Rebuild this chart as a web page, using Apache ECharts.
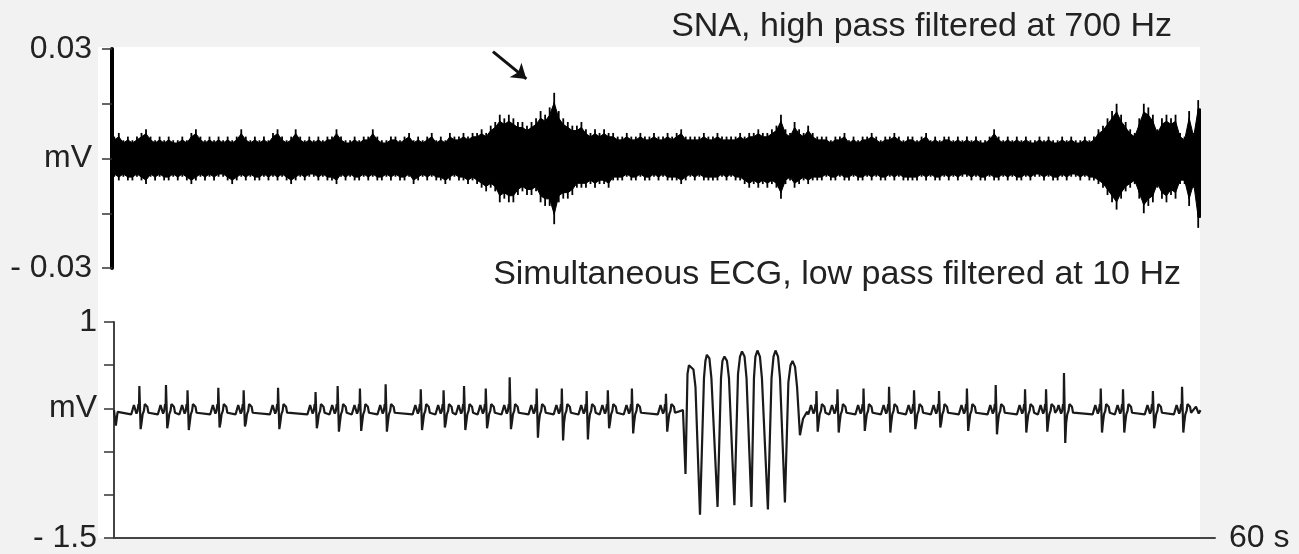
<!DOCTYPE html>
<html>
<head>
<meta charset="utf-8">
<script src="https://cdn.jsdelivr.net/npm/echarts@6/dist/echarts.min.js"></script>
<style>
html, body { margin: 0; padding: 0; background: #f2f2f2; }
#container { width: 1299px; height: 554px; }
</style>
</head>
<body>
<div id="container"></div>
<script>
var dom = document.getElementById("container");
var myChart = echarts.init(dom);
var option = null;

// time axis (s)
var timeMax = 60.8;
var snaStep = 0.25;

// SNA envelope in microvolts, one value per 0.25 s bin
var snaUpperUv = [
    6,7,5,6, 5,6,7,8, 6,5,6,5, 6,5,5,6, 5,7,8,6,
    5,6,5,6, 5,6,5,6, 8,6,5,6, 5,6,5,7, 8,6,5,6,
    8,6,5,6, 5,6,5,6, 6,8,6,5, 5,6,5,6, 6,8,6,5,
    5,6,6,5, 6,7,5,6, 5,6,7,5, 6,5,7,6, 6,7,6,7,
    7,8,7,9, 10,12,11,12, 11,10,10,9, 10,11,13,12, 14,18,13,11,
    10,9,9,10, 8,7,8,7, 8,7,7,6, 6,7,6,6, 7,6,6,7,
    6,6,7,6, 7,8,6,6, 6,6,7,6, 6,7,6,6, 6,6,7,6,
    7,7,8,7, 7,8,9,12, 8,7,10,8, 7,9,7,6, 6,6,5,6,
    6,7,5,6, 5,6,6,7, 6,5,6,6, 7,6,5,6, 6,5,6,7,
    5,6,5,6, 6,5,6,5, 6,5,6,5, 5,6,8,6, 5,6,5,6,
    5,6,5,5, 6,5,6,5, 5,6,5,6, 5,5,6,5, 6,8,9,11,
    13,15,12,10, 8,7,11,15, 14,12,8,11, 12,11,12,7, 6,13,7,16
];
var snaLowerUv = [
    -5,-6,-5,-6, -6,-5,-6,-7, -5,-6,-5,-6, -6,-5,-6,-5, -6,-7,-6,-5,
    -6,-5,-6,-5, -5,-6,-7,-6, -5,-6,-5,-6, -6,-5,-6,-5, -6,-5,-6,-7,
    -6,-5,-6,-5, -5,-6,-5,-6, -6,-7,-5,-6, -5,-6,-6,-5, -6,-5,-6,-6,
    -5,-6,-5,-6, -6,-5,-7,-6, -5,-6,-5,-6, -6,-7,-6,-5, -6,-6,-7,-6,
    -7,-8,-9,-8, -9,-12,-11,-12, -12,-10,-9,-10, -10,-9,-12,-13, -13,-18,-12,-11,
    -11,-10,-8,-8, -8,-7,-8,-7, -7,-8,-6,-6, -6,-5,-6,-6, -5,-6,-6,-5,
    -6,-5,-6,-6, -6,-7,-6,-5, -6,-5,-6,-6, -6,-6,-5,-6, -5,-6,-6,-7,
    -8,-7,-8,-7, -8,-7,-8,-11, -7,-6,-8,-7, -6,-7,-6,-6, -6,-5,-6,-6,
    -5,-6,-6,-5, -6,-6,-5,-6, -5,-6,-6,-5, -6,-5,-6,-6, -6,-6,-5,-6,
    -5,-6,-6,-5, -6,-5,-6,-5, -5,-6,-5,-6, -6,-5,-6,-6, -5,-6,-5,-6,
    -6,-5,-6,-5, -5,-6,-5,-6, -6,-5,-6,-5, -5,-6,-5,-6, -6,-7,-8,-10,
    -12,-14,-11,-9, -8,-7,-11,-15, -13,-12,-8,-11, -12,-10,-11,-7, -7,-13,-8,-19
];
var snaCoreShare = 0.85; // dense core of the trace vs. its outer spikes
var snaTicks = {'30': '0.03', '0': 'mV', '-30': '- 0.03'};

// ECG beats: R-peak time (s), R height and S depth (mV)
var rTimes = [1.40, 2.87, 4.06, 5.76, 7.16, 9.06, 11.13, 12.35, 13.58, 15.00,
              16.94, 18.20, 19.33, 20.53, 21.85, 23.34, 24.73, 26.10, 27.27, 28.60,
              30.48, 38.79, 39.95, 41.39, 42.80, 44.18, 45.56, 47.10, 48.69, 50.31,
              51.47, 52.46, 54.49, 55.72, 57.37, 58.98];
var rPeaks = [0.26, 0.27, 0.21, 0.24, 0.21, 0.24, 0.19, 0.26, 0.23, 0.28,
              0.22, 0.21, 0.26, 0.23, 0.36, 0.23, 0.23, 0.20, 0.21, 0.23,
              0.17, 0.20, 0.22, 0.23, 0.25, 0.21, 0.20, 0.23, 0.27, 0.22,
              0.22, 0.41, 0.23, 0.22, 0.20, 0.25];
var sTroughs = [-0.24, -0.23, -0.25, -0.22, -0.21, -0.24, -0.23, -0.27, -0.26, -0.27,
                -0.25, -0.22, -0.25, -0.23, -0.24, -0.34, -0.37, -0.36, -0.23, -0.29,
                -0.27, -0.27, -0.28, -0.26, -0.28, -0.24, -0.22, -0.26, -0.30, -0.28,
                -0.27, -0.40, -0.28, -0.28, -0.23, -0.28];
// shape of one beat around its R peak (offset s, mV); R and S slots filled per beat
var beatOffsets = [-0.45, -0.38, -0.30, -0.22, -0.16, -0.10, -0.05, -0.02, 0, 0.07, 0.12, 0.18, 0.25, 0.30, 0.38, 0.44, 0.50];
var beatShape   = [-0.07, -0.02, 0.04, 0.02, -0.06, -0.03, 0.05, 0.00, 0, 0, -0.17, -0.07, -0.03, 0.05, 0.07, 0.02, -0.05];
var rSlot = 8, sSlot = 9;
// large oscillation episode
var vtTimes = [31.42, 31.56, 31.67, 31.75, 31.86, 32.00, 32.11,
               32.36, 32.58, 32.66, 32.74, 32.88, 32.99,
               33.33, 33.52, 33.60, 33.71, 33.85, 33.96,
               34.26, 34.46, 34.57, 34.68, 34.82, 34.93,
               35.20, 35.34, 35.42, 35.53, 35.67, 35.78,
               36.11, 36.31, 36.42, 36.53, 36.67, 36.78,
               37.05, 37.24, 37.36, 37.47, 37.61, 37.72,
               37.88, 38.05, 38.27];
var vtValues = [-0.02, -0.76, 0.40, 0.50, 0.52, 0.45, 0.25,
                -1.23, 0.35, 0.55, 0.62, 0.58, 0.35,
                -1.14, 0.35, 0.55, 0.60, 0.55, 0.35,
                -1.12, 0.40, 0.60, 0.66, 0.60, 0.35,
                -1.14, 0.35, 0.60, 0.67, 0.60, 0.35,
                -1.17, 0.35, 0.60, 0.67, 0.60, 0.35,
                -1.09, 0.30, 0.50, 0.55, 0.48, 0.25,
                -0.31, -0.12, -0.04];
var ecgStart = [[0, -0.02], [0.1, -0.2], [0.2, -0.04]];
var ecgEnd = [[59.75, 0.02], [59.9, -0.06], [60, -0.02]];
var ecgTicks = {'1': '1', '0': 'mV', '-1.5': '- 1.5'};

// SNA bins: [time, lower, upper]
var snaBins = [];
for (var i = 0; i < snaUpperUv.length; i++) {
    snaBins.push([i * snaStep + snaStep / 2, snaLowerUv[i], snaUpperUv[i]]);
}

var ecgPoints = ecgStart.slice();
for (var b = 0; b < rTimes.length; b++) {
    for (var j = 0; j < beatOffsets.length; j++) {
        var v = beatShape[j];
        if (j === rSlot) v = rPeaks[b];
        if (j === sSlot) v = sTroughs[b];
        ecgPoints.push([rTimes[b] + beatOffsets[j], v]);
    }
}
for (var k = 0; k < vtTimes.length; k++) {
    ecgPoints.push([vtTimes[k], vtValues[k]]);
}
ecgPoints = ecgPoints.concat(ecgEnd);
ecgPoints.sort(function (a, b) { return a[0] - b[0]; });

// dense core between this bin and the next, plus a spike to the bin's extremes
function renderSnaBin(params, api) {
    var i = params.dataIndex;
    var cur = snaBins[i];
    var nxt = snaBins[i + 1] || [cur[0] + snaStep / 2, cur[1], cur[2]];
    var c = snaCoreShare;
    var core = [
        api.coord([cur[0], cur[2] * c]),
        api.coord([nxt[0], nxt[2] * c]),
        api.coord([nxt[0], nxt[1] * c]),
        api.coord([cur[0], cur[1] * c])
    ];
    var top = api.coord([cur[0], cur[2]]);
    var bottom = api.coord([cur[0], cur[1]]);
    return {
        type: 'group',
        children: [{
            type: 'polygon',
            shape: {points: core},
            style: {fill: '#000', stroke: '#000', lineWidth: 1}
        }, {
            type: 'line',
            shape: {x1: top[0], y1: top[1], x2: bottom[0], y2: bottom[1]},
            style: {stroke: '#000', lineWidth: 1.8}
        }]
    };
}

var font = "'Liberation Sans', Arial, sans-serif";
var textColor = '#222';

option = {
    backgroundColor: '#f2f2f2',
    animation: false,
    graphic: [{
        type: 'rect',
        z: -10,
        silent: true,
        shape: {x: 98, y: 47, width: 1102, height: 491},
        style: {fill: '#fff'}
    }],
    title: [{
        text: 'SNA, high pass filtered at 700 Hz',
        right: 122,
        top: 5,
        textStyle: {fontSize: 34, fontWeight: 'normal', color: textColor, fontFamily: font}
    }, {
        text: 'Simultaneous ECG, low pass filtered at 10 Hz',
        right: 113,
        top: 253,
        textStyle: {fontSize: 34, fontWeight: 'normal', color: textColor, fontFamily: font}
    }],
    grid: [
        {left: 112, right: 84, top: 49, height: 219},
        {left: 114, right: 84, top: 322, height: 217}
    ],
    xAxis: [{
        gridIndex: 0,
        type: 'value',
        min: 0,
        max: timeMax,
        show: false
    }, {
        gridIndex: 1,
        type: 'value',
        min: 0,
        max: timeMax,
        axisLine: {show: true, onZero: false, lineStyle: {color: '#444', width: 2}},
        axisTick: {show: false},
        axisLabel: {show: false},
        splitLine: {show: false},
        name: '60 s',
        nameLocation: 'end',
        nameGap: 14,
        nameTextStyle: {fontSize: 32, color: textColor, fontFamily: font}
    }],
    yAxis: [{
        gridIndex: 0,
        type: 'value',
        min: -30,
        max: 30,
        interval: 15,
        axisLine: {show: true, onZero: false, lineStyle: {color: '#000', width: 4}},
        axisTick: {show: true, length: 10, lineStyle: {color: '#333', width: 1.5}},
        axisLabel: {
            margin: 20,
            fontSize: 32,
            color: textColor,
            fontFamily: font,
            formatter: function (val) { return snaTicks[String(val)] || ''; }
        },
        splitLine: {show: false}
    }, {
        gridIndex: 1,
        type: 'value',
        min: -1.5,
        max: 1,
        interval: 0.5,
        axisLine: {show: true, onZero: false, lineStyle: {color: '#444', width: 2}},
        axisTick: {show: true, length: 10, lineStyle: {color: '#333', width: 1.5}},
        axisLabel: {
            margin: 17,
            fontSize: 32,
            color: textColor,
            fontFamily: font,
            formatter: function (val) { return ecgTicks[String(val)] || ''; }
        },
        splitLine: {show: false}
    }],
    series: [{
        name: 'SNA',
        type: 'custom',
        xAxisIndex: 0,
        yAxisIndex: 0,
        data: snaBins,
        encode: {x: 0, y: [1, 2]},
        renderItem: renderSnaBin,
        markLine: {
            silent: true,
            symbol: ['none', 'arrow'],
            symbolSize: 14,
            label: {show: false},
            lineStyle: {color: '#111', width: 3, type: 'solid'},
            data: [[{coord: [21.0, 29.3]}, {coord: [22.84, 21.8]}]]
        }
    }, {
        name: 'ECG',
        type: 'line',
        xAxisIndex: 1,
        yAxisIndex: 1,
        data: ecgPoints,
        showSymbol: false,
        symbol: 'none',
        lineStyle: {color: '#1a1a1a', width: 2.2}
    }]
};
if (option && typeof option === "object") {
    myChart.setOption(option, true);
}
</script>
</body>
</html>
